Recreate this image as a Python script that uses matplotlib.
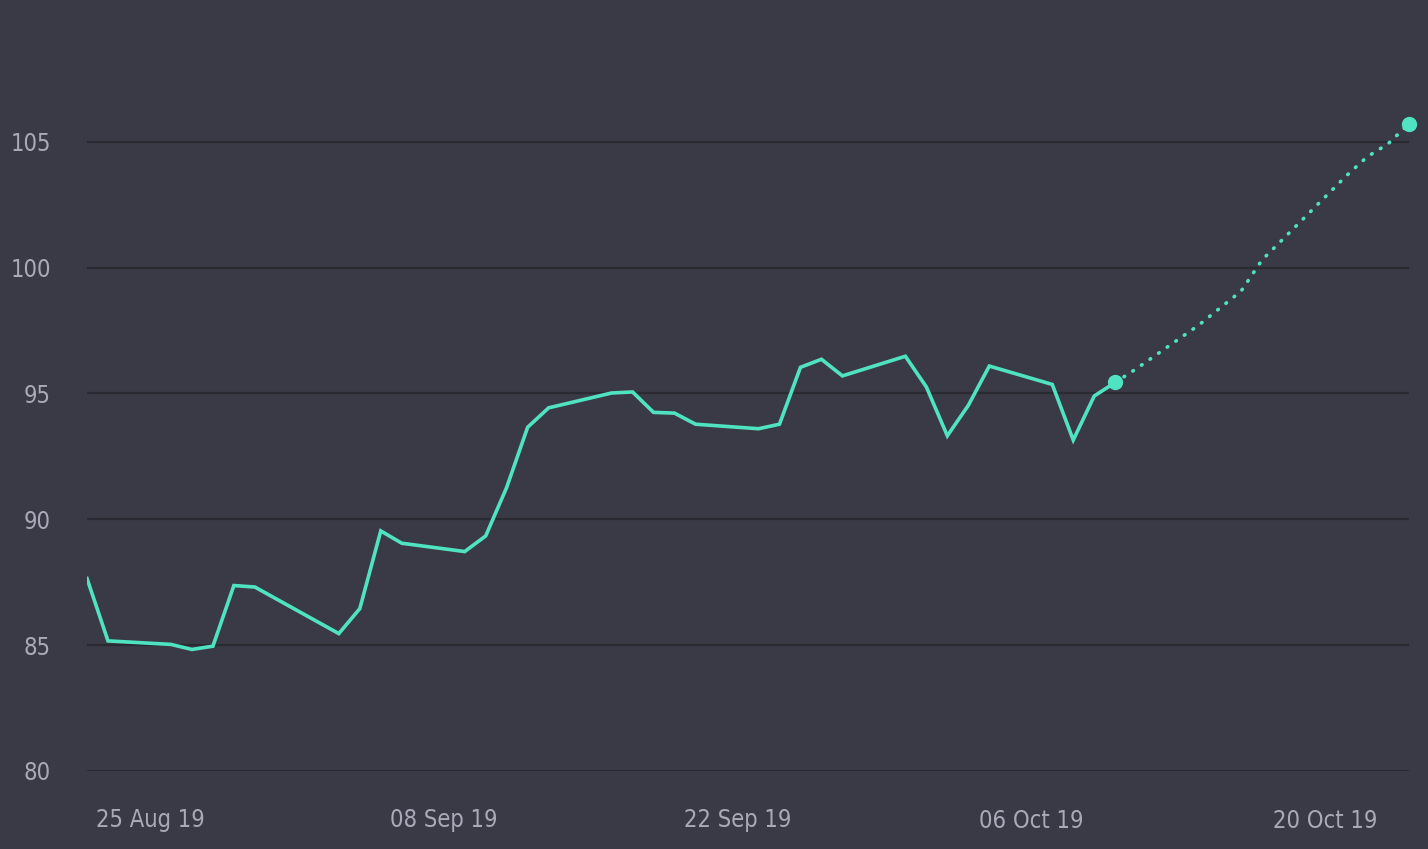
import numpy as np
import pandas as pd
import matplotlib
matplotlib.use("Agg")
import matplotlib.pyplot as plt
import matplotlib.dates as mdates

# history (trading days)
hist_dates = pd.to_datetime([
    "2019-08-22", "2019-08-23", "2019-08-26", "2019-08-27", "2019-08-28",
    "2019-08-29", "2019-08-30", "2019-09-03", "2019-09-04", "2019-09-05",
    "2019-09-06", "2019-09-09", "2019-09-10", "2019-09-11", "2019-09-12",
    "2019-09-13", "2019-09-16", "2019-09-17", "2019-09-18", "2019-09-19",
    "2019-09-20", "2019-09-23", "2019-09-24", "2019-09-25", "2019-09-26",
    "2019-09-27", "2019-09-30", "2019-10-01", "2019-10-02", "2019-10-03",
    "2019-10-04", "2019-10-07", "2019-10-08", "2019-10-09", "2019-10-10",
])
hist_values = [
    87.65, 85.17, 85.03, 84.83, 84.96,
    87.37, 87.31, 85.46, 86.45, 89.54,
    89.05, 88.72, 89.34, 91.27, 93.66,
    94.43, 95.02, 95.06, 94.25, 94.22,
    93.78, 93.60, 93.78, 96.04, 96.36,
    95.70, 96.48, 95.26, 93.32, 94.53,
    96.09, 95.36, 93.15, 94.90, 95.44,
]

# forecast
fc_dates = pd.to_datetime([
    "2019-10-10", "2019-10-11", "2019-10-14", "2019-10-15", "2019-10-16",
    "2019-10-17", "2019-10-18", "2019-10-21", "2019-10-22", "2019-10-23",
    "2019-10-24",
])
fc_values = [
    95.44, 95.98, 97.73, 98.40, 99.07,
    100.31, 101.14, 103.64, 104.40, 104.92,
    105.72,
]

tick_dates = pd.to_datetime(["2019-08-25", "2019-09-08", "2019-09-22",
                             "2019-10-06", "2019-10-20"])
y_ticks = [80, 85, 90, 95, 100, 105]

BG = "#3a3a46"
GRID = "#2a2a33"
LINE = "#50e3c2"
TEXT = "#a9a9b8"

plt.rcParams["font.family"] = ["DejaVu Sans"]
plt.rcParams["font.stretch"] = "condensed"

fig = plt.figure(figsize=(14.28, 8.49), dpi=100, facecolor=BG)
ax = fig.add_axes([87 / 1428, 78 / 849, (1409 - 87) / 1428, (771 - 16) / 849])
ax.set_facecolor(BG)

ax.plot(hist_dates, hist_values, color=LINE, lw=2.6, solid_joinstyle="miter",
        zorder=3)
ax.plot(fc_dates, fc_values, color=LINE, lw=2.6, linestyle=(0, (0.2, 2.7)),
        dash_capstyle="round", zorder=3)
ax.plot([fc_dates[0], fc_dates[-1]], [fc_values[0], fc_values[-1]],
        linestyle="none", marker="o", ms=10, color=LINE, zorder=4,
        clip_on=False)

ax.set_xlim(pd.Timestamp("2019-08-22"), pd.Timestamp("2019-10-24"))
ax.set_ylim(80, 110)
ax.set_yticks(y_ticks)
ax.set_xticks(tick_dates)
ax.xaxis.set_major_formatter(mdates.DateFormatter("%d %b %y"))

ax.grid(axis="y", color=GRID, lw=1.6)
ax.grid(axis="x", visible=False)
ax.set_axisbelow(True)
for s in ax.spines.values():
    s.set_visible(False)

ax.tick_params(axis="both", length=0, colors=TEXT, labelsize=17)
ax.tick_params(axis="y", pad=26)
ax.tick_params(axis="x", pad=27)

fig.savefig("out.png", dpi=100, facecolor=BG)
